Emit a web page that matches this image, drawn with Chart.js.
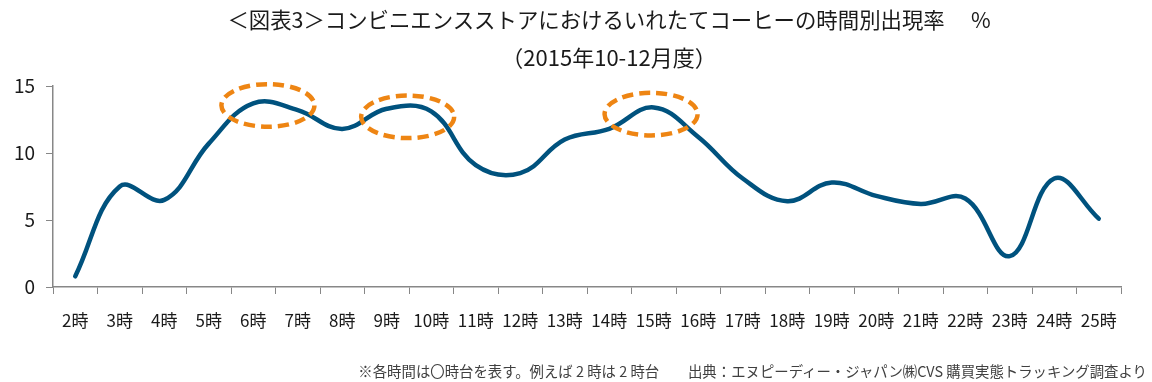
<!DOCTYPE html>
<html lang="ja">
<head>
<meta charset="utf-8">
<script src="https://cdn.jsdelivr.net/npm/chart.js@4.4.1/dist/chart.umd.min.js"></script>
<style>
  html, body { margin: 0; padding: 0; background: #fff; }
  body { width: 1152px; height: 382px; position: relative; overflow: hidden;
         font-family: "Noto Sans CJK JP", "Noto Sans", sans-serif; color: #1a1a1a; }
  #wrap { position: absolute; left: 0; top: 0; width: 1152px; height: 382px; }
  .title { position: absolute; left: 0; width: 1218px; text-align: center; white-space: nowrap; }
  #t1 { top: 3px; font-size: 21.4px; }
  #t2 { top: 40px; font-size: 22px; }
  #note { position: absolute; right: 5px; top: 360px; font-size: 14.4px; color: #404040; white-space: nowrap; }
</style>
</head>
<body>
<div id="wrap"><canvas id="chart"></canvas></div>
<div class="title" id="t1">＜図表3＞コンビニエンスストアにおけるいれたてコーヒーの時間別出現率　 %</div>
<div class="title" id="t2">（2015年10-12月度）</div>
<div id="note">※各時間は〇時台を表す。例えば 2 時は 2 時台　　出典：エヌピーディー・ジャパン㈱CVS 購買実態トラッキング調査より</div>
<script>
const hours = ["2時", "3時", "4時", "5時", "6時", "7時", "8時", "9時", "10時", "11時", "12時", "13時",
               "14時", "15時", "16時", "17時", "18時", "19時", "20時", "21時", "22時", "23時", "24時", "25時"];
const rates = [0.8, 7.5, 6.5, 10.7, 13.7, 13.2, 11.8, 13.3, 13.1, 9.1, 8.5, 11.0,
               11.8, 13.4, 11.2, 8.1, 6.4, 7.8, 6.8, 6.2, 6.6, 2.3, 8.1, 5.1];
const yTicks = [0, 5, 10, 15];

// highlighted peaks (category position, value)
const markX = [4.33, 7.47, 12.94];
const markY = [13.55, 12.7, 12.9];

const ellipsePlugin = {
  id: "ellipses",
  afterDatasetsDraw(chart) {
    const ctx = chart.ctx;
    const xs = chart.scales.x, ys = chart.scales.y;
    ctx.save();
    ctx.strokeStyle = "#ee8513";
    ctx.lineWidth = 4.5;
    ctx.setLineDash([11, 6]);
    markX.forEach((mx, i) => {
      ctx.beginPath();
      ctx.ellipse(xs.getPixelForValue(mx), ys.getPixelForValue(markY[i]), 46.5, 21.3, 0, 0, Math.PI * 2);
      ctx.stroke();
    });
    ctx.restore();
  }
};

new Chart(document.getElementById("chart"), {
  type: "line",
  data: {
    labels: hours,
    datasets: [{
      data: rates,
      borderColor: "#00527e",
      borderWidth: 4.5,
      pointRadius: 0,
      tension: 0.4,
      borderCapStyle: "round"
    }]
  },
  options: {
    responsive: true,
    maintainAspectRatio: false,
    animation: false,
    layout: { padding: { top: 86, right: 31, bottom: 0, left: 0 } },
    plugins: { legend: { display: false }, tooltip: { enabled: false } },
    scales: {
      x: {
        offset: true,
        grid: { offset: true, drawOnChartArea: false, drawTicks: true, tickLength: 7, color: "#878787" },
        border: { color: "#878787", width: 1.5 },
        ticks: { autoSkip: false, maxRotation: 0, padding: 16, color: "#1a1a1a",
                 font: { family: "'Noto Sans CJK JP'", size: 17 } },
        afterFit(s) { s.height = 95; }
      },
      y: {
        min: 0, max: 15,
        afterBuildTicks(s) { s.ticks = yTicks.map(v => ({ value: v })); },
        grid: { drawOnChartArea: false, drawTicks: true, tickLength: 7, color: "#878787" },
        border: { color: "#878787", width: 1.5 },
        ticks: { padding: 11, color: "#1a1a1a", font: { family: "'Noto Sans CJK JP'", size: 19 } },
        afterFit(s) { s.width = 53; }
      }
    }
  },
  plugins: [ellipsePlugin]
});
</script>
</body>
</html>
